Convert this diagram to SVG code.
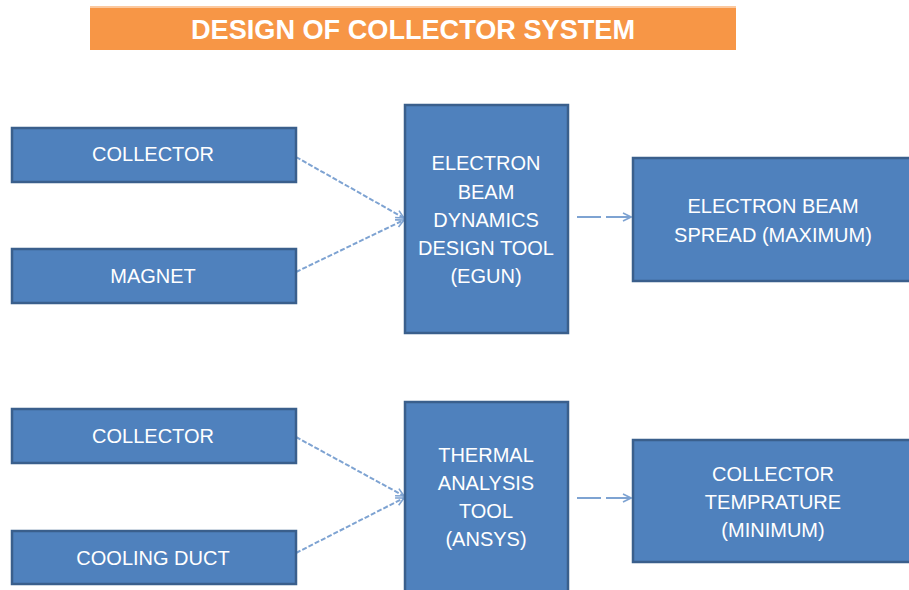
<svg xmlns="http://www.w3.org/2000/svg" width="909" height="590" viewBox="0 0 909 590">
<style>
.box{fill:#4F81BD;stroke:#3A5F8C;stroke-width:2.5}
.t{font-family:"Liberation Sans",Arial,sans-serif;font-size:20px;fill:#fff;text-anchor:middle}
.c{fill:none;stroke:#7EA3D2;stroke-width:2}
.d1{stroke-dasharray:5 2}
.d2{stroke-dasharray:24 5}
</style>
<defs>
<marker id="ah" markerWidth="10" markerHeight="10" refX="9" refY="5" orient="auto" markerUnits="userSpaceOnUse">
<path d="M1,1 L9,5 L1,9" fill="none" stroke="#7EA3D2" stroke-width="1.6"/>
</marker>
</defs>
<rect x="0" y="0" width="909" height="590" fill="#fff"/>
<g id="title">
<rect x="90" y="6" width="646" height="44" fill="#F79646"/>
<rect x="90" y="6" width="646" height="2" fill="#FBC9A0"/>
<text x="413" y="39" font-family="'Liberation Sans',Arial,sans-serif" font-size="27" font-weight="bold" fill="#fff" text-anchor="middle" textLength="444" lengthAdjust="spacingAndGlyphs">DESIGN OF COLLECTOR SYSTEM</text>
</g>
<g id="connectors">
<line class="c d1" x1="296" y1="157" x2="404" y2="218" marker-end="url(#ah)"/>
<line class="c d1" x1="296" y1="272" x2="404" y2="220" marker-end="url(#ah)"/>
<line class="c d2" x1="577" y1="217" x2="631" y2="217" marker-end="url(#ah)"/>
<line class="c d1" x1="296" y1="437" x2="404" y2="496" marker-end="url(#ah)"/>
<line class="c d1" x1="296" y1="553" x2="404" y2="498" marker-end="url(#ah)"/>
<line class="c d2" x1="577" y1="498" x2="631" y2="498" marker-end="url(#ah)"/>
</g>
<g id="collector1">
<rect class="box" x="12" y="128" width="284" height="54"/>
<text class="t" x="153" y="161">COLLECTOR</text>
</g>
<g id="magnet">
<rect class="box" x="12" y="249" width="284" height="54"/>
<text class="t" x="153" y="283">MAGNET</text>
</g>
<g id="egun">
<rect class="box" x="405" y="105" width="163" height="228"/>
<text class="t" x="486" y="170">ELECTRON</text>
<text class="t" x="486" y="199">BEAM</text>
<text class="t" x="486" y="227">DYNAMICS</text>
<text class="t" x="486" y="255">DESIGN TOOL</text>
<text class="t" x="486" y="283">(EGUN)</text>
</g>
<g id="spread">
<rect class="box" x="633" y="158" width="290" height="123"/>
<text class="t" x="773" y="213">ELECTRON BEAM</text>
<text class="t" x="773" y="242">SPREAD (MAXIMUM)</text>
</g>
<g id="collector2">
<rect class="box" x="12" y="409" width="284" height="54"/>
<text class="t" x="153" y="443">COLLECTOR</text>
</g>
<g id="duct">
<rect class="box" x="12" y="531" width="284" height="53"/>
<text class="t" x="153" y="565">COOLING DUCT</text>
</g>
<g id="ansys">
<rect class="box" x="405" y="402" width="163" height="200"/>
<text class="t" x="486" y="462">THERMAL</text>
<text class="t" x="486" y="490">ANALYSIS</text>
<text class="t" x="486" y="518">TOOL</text>
<text class="t" x="486" y="546">(ANSYS)</text>
</g>
<g id="temp">
<rect class="box" x="633" y="440" width="290" height="122"/>
<text class="t" x="773" y="481">COLLECTOR</text>
<text class="t" x="773" y="509">TEMPRATURE</text>
<text class="t" x="773" y="537">(MINIMUM)</text>
</g>
</svg>
